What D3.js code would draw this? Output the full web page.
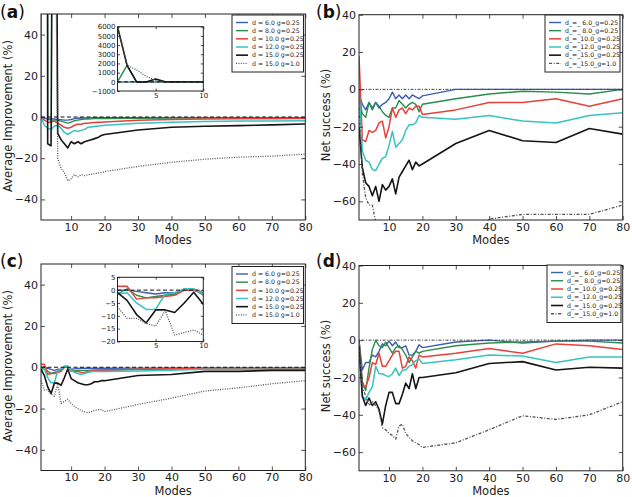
<!DOCTYPE html>
<html><head><meta charset="utf-8">
<script src="https://cdn.jsdelivr.net/npm/d3@7"></script>
<style>body{margin:0;background:#fff} svg{display:block;font-family:"DejaVu Sans",sans-serif}</style>
</head><body><svg id="c" width="632" height="497"></svg>
<script>
// ---------- data ----------
const modes = [1,2,3,4,5,6,7,8,9,10,11,12,13,14,15,16,17,18,19,20,30,40,50,60,70,80];
const labelsAC = ["d = 6.0 g=0.25","d = 8.0 g=0.25","d = 10.0 g=0.25","d = 12.0 g=0.25","d = 15.0 g=0.25","d = 15.0 g=1.0"];
const labelsBD = ["d_=_\u00a06.0_g=0.25","d_=_\u00a08.0_g=0.25","d_=_10.0_g=0.25","d_=_12.0_g=0.25","d_=_15.0_g=0.25","d_=_15.0_g=1.0"];

// (a) average improvement (%)
const a_d6   = [0,-0.5,-1,-1,-1,-1.2,-1.3,-1.5,-1.5,-1.2,-0.8,-0.6,-0.5,-0.5,-0.5,-0.4,-0.4,-0.4,-0.4,-0.4,-0.3,-0.3,-0.3,-0.3,-0.3,-0.3];
const a_d8   = [0,1800,-1,-1.5,-1.5,-1.5,-2,-2.5,-3,-2.5,-1.8,-1.5,-1.2,-1,-1,-0.9,-0.8,-0.8,-0.8,-0.8,-0.6,-0.5,-0.5,-0.5,-0.5,-0.5];
const a_d10  = [0,-1.5,-2.5,-2.5,-2,-3,-4,-5,-5.5,-5,-4,-3.5,-3.5,-3,-3,-2.8,-2.7,-2.6,-2.5,-2.4,-1.6,-1.2,-1,-0.9,-0.8,-0.7];
const a_d12  = [0,-4,-5.5,-6,-4.5,-4,-5.5,-7.5,-8.5,-7.5,-6.5,-7,-6.5,-6,-5,-4.8,-4.6,-4.4,-4.2,-4,-3,-2.5,-2.2,-2,-2,-1.8];
const a_d15  = [6000,1800,-13,-14,300,-8,-11,-13,-15,-12,-13,-12,-13,-12,-11.5,-11,-10.5,-10,-9,-8.5,-6.3,-5,-4.5,-4.2,-3.8,-3.4];
const a_d15g1= [6000,1800,1300,600,150,-20,-25,-27,-31,-30,-28,-29,-28,-28.5,-28,-27.8,-27.5,-27.2,-27,-26.5,-24,-22,-20.5,-19.5,-19,-18];

// (b) net success (%)
const b_d6   = [-3,-8,-11,-7,-10,-7,-10,-8,-7,-5,-1.5,-5,-3,-5,-3,-5,-3,-4,-5,-3.5,0,0,0,0,0,0];
const b_d8   = [-5,-13,-15,-7,-11,-7,-9,-12,-14,-15,-10,-10,-6,-8,-10,-8,-7,-8,-12,-8,-5,-2.5,-1,-1.5,-2.5,0];
const b_d10  = [18,-27,-28,-22,-23,-22,-18,-17,-26,-20,-10,-15,-11,-10,-13,-10,-11,-9,-9,-13.5,-11,-7,-7,-5,-9,-5];
const b_d12  = [0,-33,-38,-39,-43,-43.5,-40,-37,-36,-30,-22.5,-31,-29,-27,-22,-19,-19,-18,-14,-15,-16,-14,-17,-18,-14,-12.5];
const b_d15  = [-20,-42,-50,-52,-57,-52,-60,-51,-54,-52,-48,-56,-47,-44,-41,-38,-43,-39,-41,-40,-29,-22,-27.5,-28.5,-21,-24];
const b_d15g1= [-10,-45,-58,-62,-62,-71,-75,-78,-80,-82,-83,-84,-84,-85,-85,-85,-85,-85,-85,-84,-78,-69.5,-67,-67,-67,-62];

// (c) average improvement (%)
const c_d6   = [0,0,-0.5,-1,-1.5,-1,-1,0,0,-1,-0.8,-0.6,-0.5,-0.5,-0.5,-0.5,-0.5,-0.5,-0.5,-0.5,-0.4,-0.3,-0.3,-0.3,-0.3,-0.3];
const c_d8   = [-1.5,0.5,-2,-3,-2.5,-2,-1.5,0.5,0.5,-2,-1.8,-1.6,-1.5,-1.5,-1.5,-1.4,-1.3,-1.3,-1.3,-1.3,-1,-0.9,-0.7,-0.7,-0.8,-1];
const c_d10  = [1.5,1.5,-3.5,-3,-3,-2.5,-2,0,0,-1.5,-2,-2,-2.5,-2.5,-2,-1.8,-1.7,-1.6,-1.5,-1.5,-1,-0.7,-0.5,-0.5,-0.5,-0.5];
const c_d12  = [-1.5,-1,-5,-7.5,-7.5,-1.5,-1,0.5,0.5,-1.5,-2.5,-3,-3.5,-3,-2.5,-2.2,-2,-2,-2,-2,-1.8,-1.5,-1,-1,-1,-1];
const c_d15  = [-1,-4,-9.5,-12.8,-7.7,-7.7,-8.7,-5,-0.8,-5.5,-6.5,-7.5,-8,-8.5,-8.5,-8,-7,-7,-6.5,-6.5,-4,-3.5,-2,-2,-1.5,-1.5];
const c_d15g1= [-6.5,-11,-11,-13,-14,-8,-17.5,-16.5,-15.5,-17.5,-19,-20,-21,-21.5,-22,-21.5,-21,-20.5,-20.5,-21.5,-18,-15,-11.5,-10,-8,-6.5];

// (d) net success (%)
const d_d6   = [0,-16,-12,-12,-8,-9,-6,-2,-3,-0.5,-3,-1,-4,-4,-3,-8,-8,-6,-2.5,-4,-1,0,-1.5,-0.5,0,0];
const d_d8   = [0,-22,-27,-15,-5,0,-3,-4,-1,-4,-7,-4,-3,-5,-8,-12,-9,-6,-7,-6,-3,-1.5,-1,-0.5,-0.5,-1.5];
const d_d10  = [0,-25,-25,-20,-12,-13,-7,-14,-14,-11,-8,-6,-6,-15,-14,-9,-11,-15,-8,-9,-7,-4.5,-7,-2,-3,-5];
const d_d12  = [-2,-30,-32,-28,-25,-14,-18,-18,-19,-19.5,-18,-15,-19,-16,-16,-14,-13,-11,-10,-12.5,-10.5,-8,-8.5,-12,-9,-9];
const d_d15  = [-3,-30,-35,-31,-35,-33,-37,-45,-35,-28,-28,-34,-34,-29,-23,-26,-18,-26,-20,-20,-17.5,-12.5,-11.5,-16,-14.5,-15];
const d_d15g1= [-5,-25,-30,-35,-33,-35,-38,-47,-48,-50,-51,-53,-46,-45,-50,-52,-54,-55,-56,-57.5,-55,-48,-40.5,-42.5,-40,-33];

const xTicks = [10,20,30,40,50,60,70,80];
const yTicksAC = [-40,-20,0,20,40];
const yTicksBD = [-60,-40,-20,0,20,40];
const insetATicks = [-1000,0,1000,2000,3000,4000,5000,6000];
const insetCTicks = [-20,-15,-10,-5,0,5];
const insetXTicks = [5,10];

// ---------- styles ----------
const colors = ["#3d5cb4","#2a8c4e","#e8403b","#36c3c1","#151515","#555555"];
const widths = [1.4,1.4,1.5,1.5,1.6,1.3];
const svg = d3.select("#c");
const FONT = "DejaVu Sans";
let clipN = 0;

function frameAxes(g, x, y, xt, yt, opt) {
  const L = x.range()[0], R = x.range()[1], B = y.range()[0], T = y.range()[1];
  const fs = opt.fs, tl = opt.tl, pad = opt.pad;
  const ax = (axis, tr, labels) => {
    const a = g.append("g").attr("transform", tr).call(axis);
    a.select(".domain").remove();
    a.selectAll("line").attr("stroke", "#222").attr("stroke-width", 0.8);
    a.selectAll("text").attr("font-size", fs).attr("font-family", FONT).attr("fill", "#222");
    if (!labels) a.selectAll("text").remove();
    return a;
  };
  ax(d3.axisBottom(x).tickValues(xt).tickSize(-tl).tickPadding(pad), `translate(0,${B})`, true);
  ax(d3.axisTop(x).tickValues(xt).tickSize(-tl), `translate(0,${T})`, false);
  ax(d3.axisLeft(y).tickValues(yt).tickSize(-tl).tickPadding(pad).tickFormat(opt.yfmt || d3.format("")), `translate(${L},0)`, true);
  ax(d3.axisRight(y).tickValues(yt).tickSize(-tl), `translate(${R},0)`, false);
  g.append("rect").attr("x", L).attr("y", T).attr("width", R - L).attr("height", B - T)
    .attr("fill", "none").attr("stroke", "#222").attr("stroke-width", 1);
}

function drawLines(g, x, y, series, lastDash, zeroDash, zeroColor) {
  const id = "clip" + (clipN++);
  const L = x.range()[0], R = x.range()[1], B = y.range()[0], T = y.range()[1];
  g.append("clipPath").attr("id", id).append("rect").attr("x", L).attr("y", T).attr("width", R - L).attr("height", B - T);
  const cg = g.append("g").attr("clip-path", `url(#${id})`);
  const line = d3.line().x((d) => x(d[0])).y((d) => y(d[1]));
  series.forEach((s, i) => {
    cg.append("path").datum(modes.map((m, k) => [m, s[k]]))
      .attr("d", line).attr("fill", "none").attr("stroke", colors[i])
      .attr("stroke-width", widths[i]).attr("stroke-linejoin", "round")
      .attr("stroke-dasharray", i === 5 ? lastDash : null);
  });
  cg.append("line").attr("x1", L).attr("x2", R).attr("y1", y(0)).attr("y2", y(0))
    .attr("stroke", zeroColor).attr("stroke-width", 1).attr("stroke-dasharray", zeroDash);
}

function legend(g, x0, y0, w, h, labels, lastDash, fs) {
  g.append("rect").attr("x", x0).attr("y", y0).attr("width", w).attr("height", h)
    .attr("fill", "#fff").attr("stroke", "#222").attr("stroke-width", 1);
  const step = (h - 8) / 6;
  labels.forEach((lab, i) => {
    const yy = y0 + 7.5 + i * step;
    g.append("line").attr("x1", x0 + 4).attr("x2", x0 + 16).attr("y1", yy).attr("y2", yy)
      .attr("stroke", colors[i]).attr("stroke-width", widths[i])
      .attr("stroke-dasharray", i === 5 ? lastDash : null);
    g.append("text").attr("x", x0 + 20).attr("y", yy).attr("dy", "0.35em")
      .attr("font-size", fs).attr("font-family", FONT).attr("fill", "#222")
      .attr("xml:space", "preserve").text(lab);
  });
}

function panel(p) {
  const g = svg.append("g");
  const x = d3.scaleLinear().domain([1, 80]).range([p.L, p.R]);
  const y = d3.scaleLinear().domain(p.yDom).range([p.B, p.T]);
  drawLines(g, x, y, p.series, p.lastDash, p.zeroDash, p.zeroColor);
  frameAxes(g, x, y, xTicks, p.yTicks, {fs: 11, tl: 4, pad: 3});
  g.append("text").attr("x", (p.L + p.R) / 2).attr("y", p.B + 24).attr("text-anchor", "middle")
    .attr("font-size", 11.5).attr("font-family", FONT).attr("fill", "#222").text("Modes");
  g.append("text").attr("transform", `translate(${p.yTitleX},${p.yTitleY}) rotate(-90)`)
    .attr("text-anchor", "middle").attr("font-size", 11.5).attr("font-family", FONT)
    .attr("fill", "#222").text(p.yTitle);
  const t = g.append("text").attr("x", p.letX).attr("y", p.letY).attr("font-size", 17)
    .attr("font-family", FONT).attr("fill", "#111");
  t.append("tspan").text("(");
  t.append("tspan").attr("font-weight", "bold").text(p.letter);
  t.append("tspan").text(")");
  if (p.inset) {
    const ins = p.inset;
    const ix = d3.scaleLinear().domain([1, 10]).range([ins.L, ins.R]);
    const iy = d3.scaleLinear().domain(ins.yDom).range([ins.B, ins.T]);
    const ig = g.append("g");
    ig.append("rect").attr("x", ins.L).attr("y", ins.T).attr("width", ins.R - ins.L).attr("height", ins.B - ins.T).attr("fill", "#fff");
    drawLines(ig, ix, iy, p.series, p.lastDash, p.zeroDash, p.zeroColor);
    frameAxes(ig, ix, iy, insetXTicks, ins.yTicks, {fs: 7, tl: 2.5, pad: 2});
  }
  legend(g, p.leg[0], p.leg[1], p.leg[2], p.leg[3], p.labels, p.lastDash, 6.2);
}

const dotAC = "1,1.4";
const dotBD = "3,1.6,1,1.6";

panel({L: 41, R: 305.3, T: 14, B: 220, yDom: [-50, 50], yTicks: yTicksAC,
  series: [a_d6, a_d8, a_d10, a_d12, a_d15, a_d15g1], lastDash: dotAC, zeroDash: "4,2.5", zeroColor: "#111",
  yTitle: "Average Improvement (%)", yTitleX: 12, yTitleY: 116, letter: "a", letX: 0, letY: 18,
  labels: labelsAC, leg: [232, 15, 71.5, 57],
  inset: {L: 117.5, R: 203.3, T: 26.7, B: 91, yDom: [-1000, 6000], yTicks: insetATicks}});

panel({L: 359, R: 622.7, T: 14.7, B: 220, yDom: [-70, 40], yTicks: yTicksBD,
  series: [b_d6, b_d8, b_d10, b_d12, b_d15, b_d15g1], lastDash: dotBD, zeroDash: "1,1.5,3,1.5", zeroColor: "#444",
  yTitle: "Net success (%)", yTitleX: 330, yTitleY: 115, letter: "b", letX: 316, letY: 18,
  labels: labelsBD, leg: [545, 15, 75, 57]});

panel({L: 41, R: 305.3, T: 264, B: 470.5, yDom: [-50, 50], yTicks: yTicksAC,
  series: [c_d6, c_d8, c_d10, c_d12, c_d15, c_d15g1], lastDash: dotAC, zeroDash: "4,2.5", zeroColor: "#111",
  yTitle: "Average Improvement (%)", yTitleX: 12, yTitleY: 366, letter: "c", letX: 0, letY: 267,
  labels: labelsAC, leg: [232, 266.5, 71.5, 57],
  inset: {L: 117.5, R: 203.3, T: 277.3, B: 341.5, yDom: [-20, 5], yTicks: insetCTicks}});

panel({L: 359, R: 622.7, T: 265.5, B: 470.8, yDom: [-70, 40], yTicks: yTicksBD,
  series: [d_d6, d_d8, d_d10, d_d12, d_d15, d_d15g1], lastDash: dotBD, zeroDash: "1,1.5,3,1.5", zeroColor: "#444",
  yTitle: "Net success (%)", yTitleX: 330, yTitleY: 366, letter: "d", letX: 316, letY: 267,
  labels: labelsBD, leg: [547, 265, 74, 57.5]});
</script></body></html>
